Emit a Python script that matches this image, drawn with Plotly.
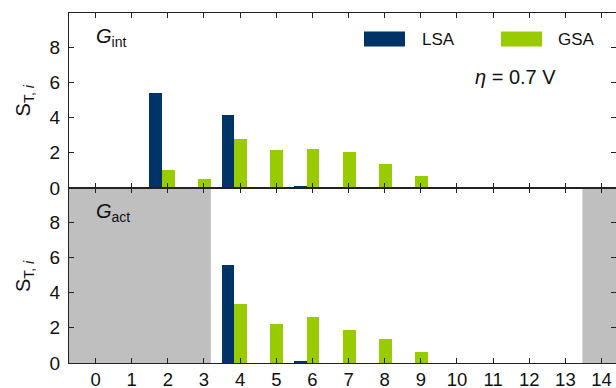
import plotly.graph_objects as go

positions = list(range(15))
tick_labels = [str(i) for i in positions]
y_ticks = [0, 2, 4, 6, 8]

# G_int panel (top)
lsa_int = [0, 0, 5.37, 0.03, 4.12, 0.03, 0.10, 0, 0, 0, 0, 0, 0, 0, 0]
gsa_int = [0, 0.02, 1.00, 0.49, 2.76, 2.14, 2.19, 2.02, 1.34, 0.66, 0.02, 0, 0, 0, 0]
# G_act panel (bottom)
lsa_act = [None, None, None, None, 5.55, 0, 0.11, 0, 0, 0, 0, 0, 0, 0, None]
gsa_act = [None, None, None, None, 3.34, 2.21, 2.60, 1.87, 1.36, 0.62, 0, 0, 0, 0, None]

# regions not applicable in the bottom panel (shaded)
shade_regions = [(-0.735, 3.19), (13.47, 14.4)]

NAVY = "#003366"
GREEN = "#99CC00"
GRAY = "#BFBFBF"
FONT = "Liberation Sans, Arial, sans-serif"

BAR_W = 0.355
LSA_OFF = -0.515
GSA_OFF = -0.16

fig = go.Figure()
for (lsa, gsa, xa, ya) in [(lsa_int, gsa_int, "x", "y"), (lsa_act, gsa_act, "x2", "y2")]:
    fig.add_trace(go.Bar(x=positions, y=lsa, width=BAR_W, offset=LSA_OFF,
                         marker=dict(color=NAVY, line=dict(width=0)),
                         xaxis=xa, yaxis=ya, name="LSA", showlegend=False))
    fig.add_trace(go.Bar(x=positions, y=gsa, width=BAR_W, offset=GSA_OFF,
                         marker=dict(color=GREEN, line=dict(width=0)),
                         xaxis=xa, yaxis=ya, name="GSA", showlegend=False))

x_range = [-0.735, 14.4]
y_range = [0, 9.93]
axis_common = dict(showgrid=False, zeroline=False, showline=True, linecolor="#222",
                   linewidth=1.2, ticks="inside", ticklen=5, tickwidth=1,
                   tickcolor="#222", mirror="ticks", automargin=False,
                   tickfont=dict(family=FONT, size=19, color="#111"))

W, H = 616.0, 388.0
ML, MR, MT, MB = 69, 0, 12.5, 25

fig.update_layout(
    width=616, height=388, autosize=False,
    margin=dict(l=ML, r=MR, t=MT, b=MB, pad=0),
    paper_bgcolor="white", plot_bgcolor="white",
    barmode="overlay", bargap=0,
    xaxis=dict(axis_common, domain=[0, 1], range=x_range, anchor="y",
               tickvals=positions, showticklabels=False),
    yaxis=dict(axis_common, domain=[0.5, 1], range=y_range, anchor="x",
               tickvals=y_ticks, ticklabelstandoff=4),
    xaxis2=dict(axis_common, domain=[0, 1], range=x_range, anchor="y2",
                tickvals=positions, ticktext=tick_labels, ticklabelstandoff=0,
                tickfont=dict(family=FONT, size=18.5, color="#111")),
    yaxis2=dict(axis_common, domain=[0, 0.5], range=y_range, anchor="x2",
                tickvals=y_ticks, ticklabelstandoff=4),
)

def px(xp):
    return (xp - ML) / (W - ML - MR)
def py(yp):
    return (H - MB - yp) / (H - MT - MB)

shapes = []
for x0, x1 in shade_regions:
    shapes.append(dict(type="rect", xref="x2", yref="y2 domain", x0=x0, x1=x1,
                       y0=0, y1=1, fillcolor=GRAY, line=dict(width=0), layer="below"))

shapes.append(dict(type="rect", xref="paper", yref="paper", x0=px(364), x1=px(405),
                   y0=py(46), y1=py(31), fillcolor=NAVY, line=dict(width=0)))
shapes.append(dict(type="rect", xref="paper", yref="paper", x0=px(501), x1=px(542),
                   y0=py(46), y1=py(31), fillcolor=GREEN, line=dict(width=0)))
fig.update_layout(shapes=shapes)

ann = []
ann.append(dict(text="LSA", x=px(420), y=py(39), xref="paper", yref="paper",
                xanchor="left", yanchor="middle", showarrow=False,
                font=dict(family=FONT, size=17, color="#111")))
ann.append(dict(text="GSA", x=px(556), y=py(39), xref="paper", yref="paper",
                xanchor="left", yanchor="middle", showarrow=False,
                font=dict(family=FONT, size=17, color="#111")))
ann.append(dict(text="<i>η</i> = 0.7 V", x=px(473), y=py(77), xref="paper", yref="paper",
                xanchor="left", yanchor="middle", showarrow=False,
                font=dict(family=FONT, size=20, color="#111")))
ann.append(dict(text="<i>G</i><sub>int</sub>", x=px(94), y=py(37), xref="paper", yref="paper",
                xanchor="left", yanchor="middle", showarrow=False,
                font=dict(family=FONT, size=20, color="#111")))
ann.append(dict(text="<i>G</i><sub>act</sub>", x=px(94), y=py(212), xref="paper", yref="paper",
                xanchor="left", yanchor="middle", showarrow=False,
                font=dict(family=FONT, size=20, color="#111")))
for yc in (100, 276):
    ann.append(dict(text="S<sub>T, <i>i</i></sub>", x=px(24), y=py(yc), xref="paper", yref="paper",
                    xanchor="center", yanchor="middle", showarrow=False, textangle=-90,
                    font=dict(family=FONT, size=20, color="#111")))
fig.update_layout(annotations=ann)

fig.write_html("out.html", config={"displayModeBar": False},
               post_script="document.body.style.margin='0';document.body.style.overflow='hidden';")
